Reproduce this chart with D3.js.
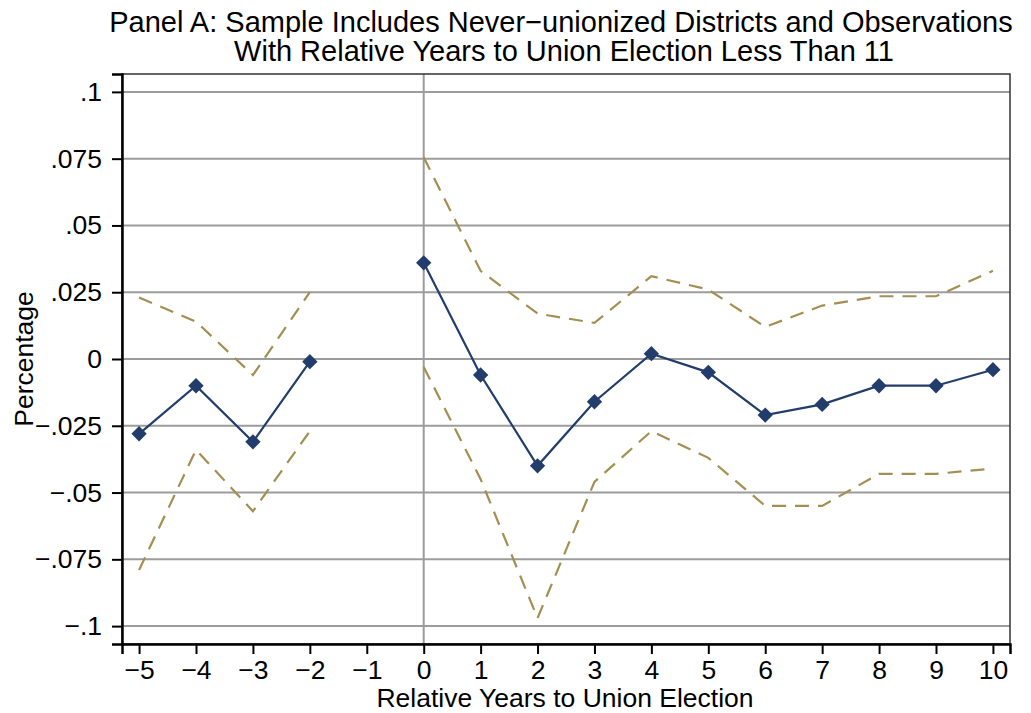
<!DOCTYPE html>
<html>
<head>
<meta charset="utf-8">
<script src="https://cdn.jsdelivr.net/npm/d3@7"></script>
<style>
  body { margin: 0; background: #fff; }
  text { font-family: "Liberation Sans", Arial, sans-serif; fill: #000; }
</style>
</head>
<body>
<div id="chart"></div>
<script>
// Event-study estimates, relative years to union election (no estimate at -1)
const years = [-5, -4, -3, -2, 0, 1, 2, 3, 4, 5, 6, 7, 8, 9, 10];
const estimate = [-0.028, -0.010, -0.031, -0.001, 0.036, -0.006, -0.040, -0.016, 0.002, -0.005, -0.021, -0.017, -0.010, -0.010, -0.004];
const upperCI = [0.023, 0.014, -0.006, 0.025, 0.0755, 0.033, 0.017, 0.0135, 0.031, 0.026, 0.012, 0.020, 0.0235, 0.0235, 0.033];
const lowerCI = [-0.079, -0.034, -0.057, -0.027, -0.003, -0.045, -0.097, -0.046, -0.027, -0.037, -0.055, -0.055, -0.043, -0.043, -0.041];
const xTicks = [-5, -4, -3, -2, -1, 0, 1, 2, 3, 4, 5, 6, 7, 8, 9, 10];
const yTicks = [0.1, 0.075, 0.05, 0.025, 0, -0.025, -0.05, -0.075, -0.1];
const yTickLabels = [".1", ".075", ".05", ".025", "0", "\u2212.025", "\u2212.05", "\u2212.075", "\u2212.1"];

(function() {
    const W = 1031, H = 713;
    const margin = {top: 74, right: 21, bottom: 69, left: 122},
        width = W - margin.left - margin.right,
        height = H - margin.top - margin.bottom;

    const svg = d3.select("#chart")
        .append("svg")
        .attr("width", W)
        .attr("height", H);

    const g = svg.append("g")
        .attr("transform", `translate(${margin.left},${margin.top})`);

    const x = d3.scaleLinear().domain([-5.3, 10.3]).range([0, width]);
    const y = d3.scaleLinear().domain([-0.1067, 0.1067]).range([height, 0]);

    // Gridlines
    g.selectAll("line.grid")
        .data(yTicks)
        .enter()
        .append("line")
        .attr("class", "grid")
        .attr("x1", 0).attr("x2", width)
        .attr("y1", d => y(d)).attr("y2", d => y(d))
        .attr("stroke", "#9c9c9c")
        .attr("stroke-width", 2);

    // Reference line at 0
    g.append("line")
        .attr("x1", x(0)).attr("x2", x(0))
        .attr("y1", 0).attr("y2", height)
        .attr("stroke", "#9c9c9c")
        .attr("stroke-width", 2);

    // Plot border
    g.append("rect")
        .attr("width", width).attr("height", height)
        .attr("fill", "none")
        .attr("stroke", "#333")
        .attr("stroke-width", 1.5);

    // Axes
    const xAxis = g.append("g")
        .attr("transform", `translate(0,${height})`)
        .call(d3.axisBottom(x).tickValues(xTicks).tickSize(10).tickPadding(6)
            .tickFormat(d => d < 0 ? "\u2212" + Math.abs(d) : d));
    const yAxis = g.append("g")
        .call(d3.axisLeft(y).tickValues(yTicks).tickSize(10).tickPadding(10)
            .tickFormat((d, i) => yTickLabels[i]));

    [xAxis, yAxis].forEach(a => {
        a.select(".domain").attr("stroke", "#000").attr("stroke-width", 2.5);
        a.selectAll(".tick line").attr("stroke", "#000").attr("stroke-width", 2);
        a.selectAll(".tick text").style("font-size", "26.5px")
            .style("font-family", "'Liberation Sans', Arial, sans-serif").attr("fill", "#000");
    });

    const rows = years.map((yr, i) => ({yr, est: estimate[i], hi: upperCI[i], lo: lowerCI[i]}));
    const segs = [rows.filter(d => d.yr < 0), rows.filter(d => d.yr >= 0)];

    const lineOf = key => d3.line().x(d => x(d.yr)).y(d => y(d[key]));

    segs.forEach(seg => {
        ["hi", "lo"].forEach(k => {
            g.append("path")
                .datum(seg)
                .attr("fill", "none")
                .attr("stroke", "#a38f52")
                .attr("stroke-width", 2.2)
                .attr("stroke-dasharray", "14,9")
                .attr("d", lineOf(k));
        });
        g.append("path")
            .datum(seg)
            .attr("fill", "none")
            .attr("stroke", "#223d6b")
            .attr("stroke-width", 2.2)
            .attr("d", lineOf("est"));
    });

    g.selectAll("path.marker")
        .data(rows)
        .enter()
        .append("path")
        .attr("class", "marker")
        .attr("d", d3.symbol().type(d3.symbolDiamond2).size(150))
        .attr("transform", d => `translate(${x(d.yr)},${y(d.est)})`)
        .attr("fill", "#223d6b");

    // Titles
    svg.append("text")
        .attr("x", 561).attr("y", 32)
        .attr("text-anchor", "middle")
        .style("font-size", "29px")
        .text("Panel A: Sample Includes Never\u2212unionized Districts and Observations");
    svg.append("text")
        .attr("x", 564).attr("y", 61)
        .attr("text-anchor", "middle")
        .style("font-size", "29px")
        .text("With Relative Years to Union Election Less Than 11");

    svg.append("text")
        .attr("x", 565).attr("y", 707)
        .attr("text-anchor", "middle")
        .style("font-size", "26.5px")
        .text("Relative Years to Union Election");

    svg.append("text")
        .attr("transform", "rotate(-90)")
        .attr("x", -359).attr("y", 33)
        .attr("text-anchor", "middle")
        .style("font-size", "26.5px")
        .text("Percentage");
})();
</script>
</body>
</html>
